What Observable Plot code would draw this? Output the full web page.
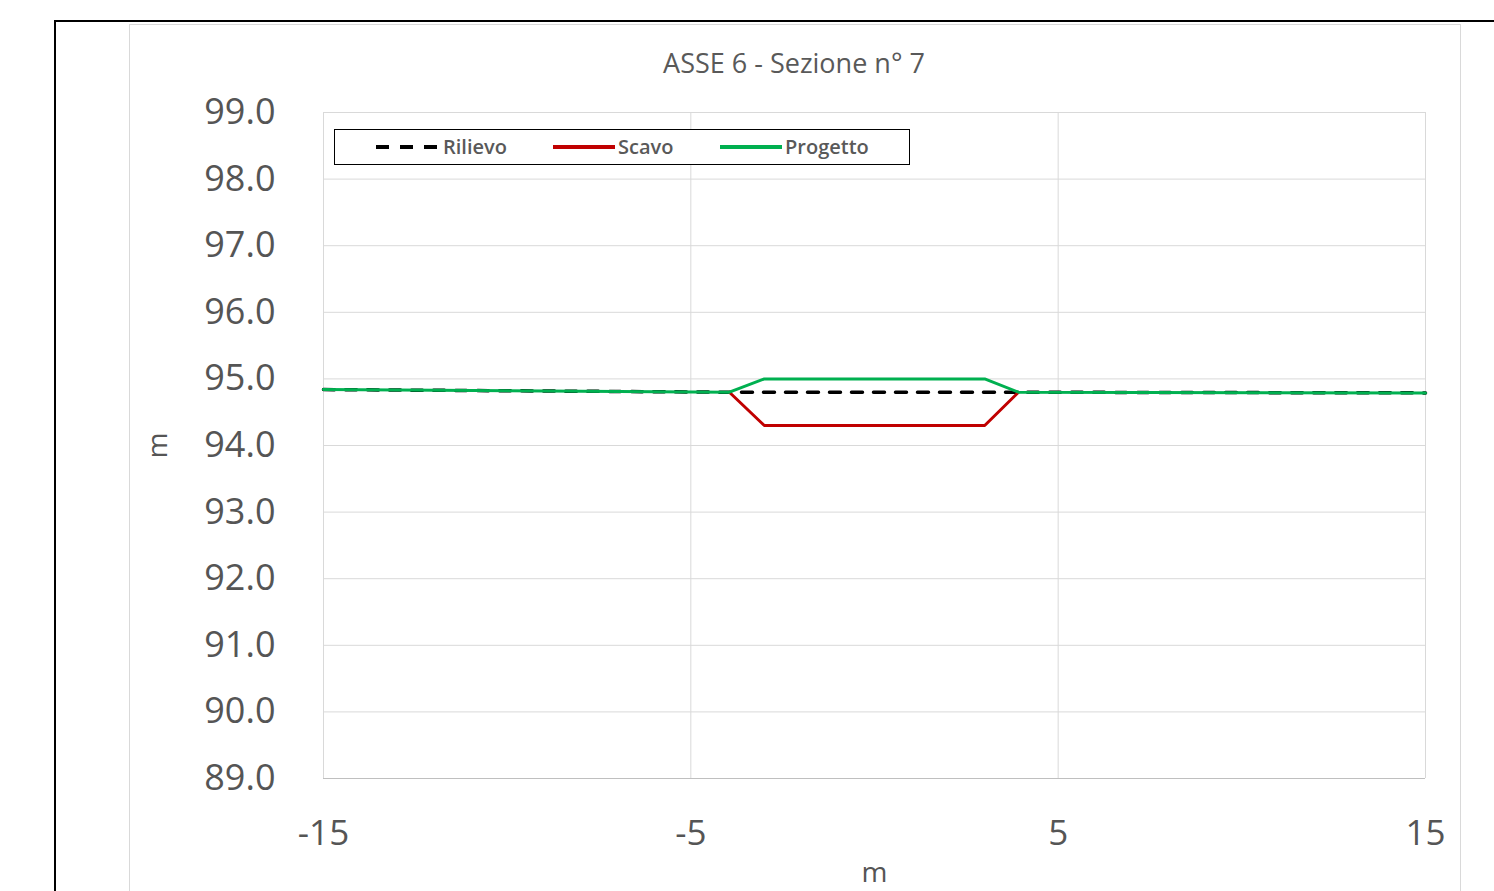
<!DOCTYPE html>
<html>
<head>
<meta charset="utf-8">
<script src="https://cdn.jsdelivr.net/npm/d3@7"></script>
<script src="https://cdn.jsdelivr.net/npm/@observablehq/plot@0.6"></script>
<style>
  html, body { margin: 0; padding: 0; background: #fff; overflow: hidden; }
  #wrap { position: relative; width: 1494px; height: 891px; font-family: "Open Sans", sans-serif; }
  #outer { position: absolute; left: 54px; top: 20px; width: 1460px; height: 900px; border-left: 2px solid #000; border-top: 2px solid #000; }
  #inner { position: absolute; left: 129px; top: 24px; width: 1330px; height: 900px; border: 1px solid #d9d9d9; }
  #title { position: absolute; left: 0; width: 1588px; top: 44px; text-align: center; font-size: 27px; color: #595959; }
  #chart { position: absolute; left: 0; top: 0; }
  #legend { position: absolute; left: 334px; top: 129px; width: 574px; height: 34px; border: 1px solid #000; background: #fff; }
  .item { position: absolute; top: 0; height: 34px; line-height: 34px; font-size: 20px; font-weight: 600; color: #595959; }
  .sw { position: absolute; top: 15px; height: 0; }
</style>
</head>
<body>
<div id="wrap">
  <div id="outer"></div>
  <div id="inner"></div>
  <div id="chart"></div>
  <div id="title">ASSE 6 - Sezione n° 7</div>
  <div id="legend"></div>
</div>
<script>
const seriesNames = ["Rilievo", "Scavo", "Progetto"];
const seriesColors = ["#000000", "#c00000", "#00b050"];

const rilievoX = [-15, -3.95, 3.92, 15];
const rilievoY = [94.84, 94.80, 94.80, 94.79];

const scavoX = [-3.95, -3, 3, 3.92];
const scavoY = [94.80, 94.30, 94.30, 94.80];

const progettoX = [-15, -3.95, -3, 3, 3.92, 15];
const progettoY = [94.84, 94.80, 95.00, 95.00, 94.80, 94.79];

const xTicks = [-15, -5, 5, 15];
const yTicks = [89, 90, 91, 92, 93, 94, 95, 96, 97, 98, 99];

const toRows = (xs, ys) => xs.map((x, i) => ({x, y: ys[i]}));
const rilievo = toRows(rilievoX, rilievoY);
const scavo = toRows(scavoX, scavoY);
const progetto = toRows(progettoX, progettoY);

const chart = Plot.plot({
  width: 1494,
  height: 891,
  marginLeft: 323,
  marginRight: 69,
  marginTop: 112,
  marginBottom: 113,
  style: { fontFamily: "'Open Sans', sans-serif", background: "transparent", color: "#595959" },
  x: { domain: [-15, 15], ticks: xTicks, tickFormat: d => String(d), label: null },
  y: { domain: [89, 99], ticks: yTicks, tickFormat: d3.format(".1f"), label: null },
  marks: [
    Plot.gridY(yTicks, { stroke: "#d9d9d9", strokeOpacity: 1, strokeWidth: 1 }),
    Plot.gridX(xTicks, { stroke: "#d9d9d9", strokeOpacity: 1, strokeWidth: 1 }),
    Plot.ruleY([89], { stroke: "#bfbfbf", strokeWidth: 1.2 }),
    Plot.axisX({ ticks: xTicks, tickFormat: d => String(d), tickSize: 0, tickPadding: 42, fontSize: 35, fill: "#555555", label: null }),
    Plot.axisY({ ticks: yTicks, tickFormat: d3.format(".1f"), tickSize: 0, tickPadding: 48, fontSize: 36, fill: "#555555", label: null }),
    Plot.line(rilievo, { x: "x", y: "y", stroke: seriesColors[0], strokeWidth: 3.5, strokeDasharray: "11,11" }),
    Plot.line(scavo, { x: "x", y: "y", stroke: seriesColors[1], strokeWidth: 3 }),
    Plot.line(progetto, { x: "x", y: "y", stroke: seriesColors[2], strokeWidth: 3 }),
    Plot.text(["m"], { x: 0, frameAnchor: "bottom", dy: 103, fontSize: 28, fill: "#555555" }),
    Plot.text(["m"], { y: 94, frameAnchor: "left", textAnchor: "middle", dx: -165, rotate: -90, fontSize: 28, fill: "#555555" })
  ]
});
document.getElementById("chart").appendChild(chart);

// legend
const legend = document.getElementById("legend");
const items = [
  { sw: 41, tx: 108, dash: true },
  { sw: 218, tx: 283, dash: false },
  { sw: 385, tx: 450, dash: false }
];
seriesNames.forEach((name, i) => {
  const s = document.createElement("div");
  s.className = "sw";
  s.style.left = items[i].sw + "px";
  s.style.width = "62px";
  s.style.borderTop = items[i].dash ? "none" : `4px solid ${seriesColors[i]}`;
  if (items[i].dash) {
    s.style.height = "4px";
    s.style.top = "15px";
    s.style.background = `repeating-linear-gradient(90deg, ${seriesColors[i]} 0 13px, transparent 13px 24px)`;
  }
  legend.appendChild(s);
  const t = document.createElement("div");
  t.className = "item";
  t.style.left = items[i].tx + "px";
  t.textContent = name;
  legend.appendChild(t);
});
</script>
</body>
</html>
